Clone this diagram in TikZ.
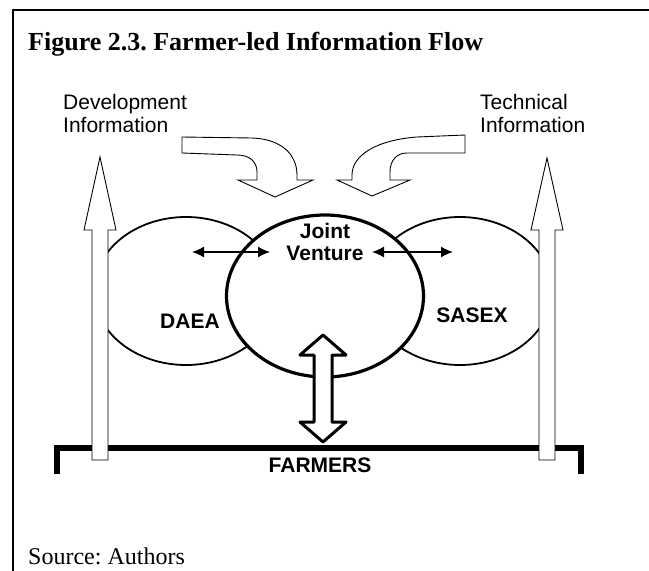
\documentclass[tikz,border=0pt]{standalone}
\usepackage{fontspec}
\setmainfont{Liberation Serif}
\setsansfont{Liberation Sans}
\usetikzlibrary{shapes.geometric,arrows.meta}
\frenchspacing

\begin{document}
\begin{tikzpicture}[x=1pt, y=-1pt,
    hollow/.style={draw=black, fill=white, line width=0.9pt, line join=miter},
    blob/.style={ellipse, draw=black, fill=white, inner sep=0pt},
    lbl/.style={font=\sffamily\fontsize{21}{23}\selectfont, align=left},
    lblb/.style={font=\sffamily\bfseries\fontsize{21}{22}\selectfont, align=center},
    twoway/.style={{Latex[length=12pt,width=11pt]}-{Latex[length=12pt,width=11pt]}, line width=1.4pt}]
        \useasboundingbox (0,0) rectangle (649,571);
        \draw[line width=2.5pt] (13,571) -- (13,10) -- (649,10);
        \node[anchor=base west, inner sep=0pt, font=\bfseries\fontsize{26}{28}\selectfont] (title) at (28,50) {Figure 2.3. Farmer-led Information Flow};
        \node[anchor=base west, inner sep=0pt, font=\fontsize{24}{26}\selectfont] (source) at (28,564) {Source: Authors};
        \node[lbl, anchor=base west, inner sep=0pt] (devinfo) at (63,132) {Development\\Information};
        \node[lbl, anchor=base west, inner sep=0pt] (techinfo) at (480,132) {Technical\\Information};
        \draw[line width=6pt, line join=miter] (57,474) -- (57,447.5) -- (581,447.5) -- (581,474);
        \node[lblb, anchor=base, inner sep=0pt] (farmers) at (320,472) {FARMERS};
        \node[blob, line width=1.8pt, minimum width=184pt, minimum height=148pt] (daea) at (186,291) {};
        \node[blob, line width=1.8pt, minimum width=184pt, minimum height=148pt] (sasex) at (460,291) {};
        \node[blob, line width=3.2pt, minimum width=197pt, minimum height=162pt] (jv) at (325,296) {};
        \node[lblb, anchor=base, inner sep=0pt] (daealbl) at (190,328) {DAEA};
        \node[lblb, anchor=base, inner sep=0pt] (sasexlbl) at (472,322) {SASEX};
        \node[lblb, anchor=base, inner sep=0pt] (jvlbl) at (325,260) {Joint\\Venture};
        \draw[hollow] (92,460) -- (92,230) -- (84,230) -- (100,157) -- (116,230) -- (108,230) -- (108,460) -- cycle;
        \draw[hollow] (539,460) -- (539,230) -- (531,230) -- (547,158) -- (563,230) -- (555,230) -- (555,460) -- cycle;
        \draw[hollow] (182,137) -- (252,138) .. controls (282,139) and (297,155) .. (297,175) -- (297,180) -- (313,180) -- (275,197)
            -- (238,180) -- (257,180) -- (257,172) .. controls (257,162) and (250,155) .. (237,155) -- (182,153) -- cycle;
        \draw[hollow] (465,135) -- (417,137) .. controls (377,140) and (352,155) .. (352,175) -- (352,180) -- (337,180) -- (372,196)
            -- (410,180) -- (390,180) -- (390,172) .. controls (390,160) and (397,153) .. (407,153) -- (465,153) -- cycle;
        \draw[draw=black, fill=white, line width=3pt, line join=round] (323,335) -- (346,355) -- (332,355) -- (332,422) -- (346,422)
            -- (323,442) -- (300,422) -- (314,422) -- (314,355) -- (300,355) -- cycle;
        \coordinate (dl) at (192,252);
        \coordinate (dr) at (270,252);
        \coordinate (sl) at (372,252);
        \coordinate (sr) at (453,252);
        \draw[twoway] (dl) -- (dr);
        \draw[twoway] (sl) -- (sr);
    \end{tikzpicture}
\end{document}
